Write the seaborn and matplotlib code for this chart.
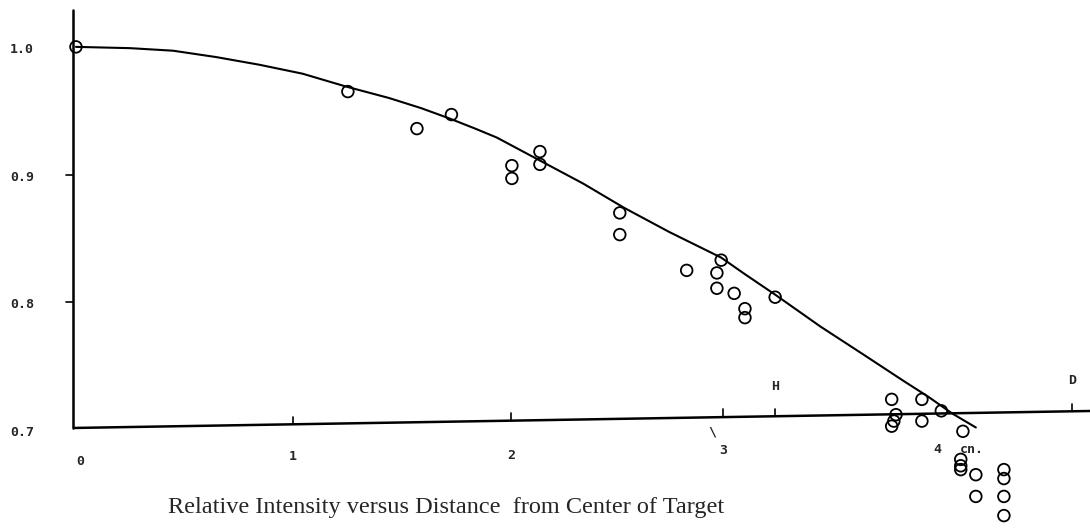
import numpy as np
import pandas as pd
import matplotlib
matplotlib.use("Agg")
import matplotlib.pyplot as plt
import seaborn as sns

# measured points: distance from target centre (cm) vs relative intensity
dist = [0.00, 1.26, 1.58, 1.74, 2.02, 2.02, 2.15, 2.15, 2.52, 2.52,
        2.83, 2.99, 2.97, 2.97, 3.05, 3.10, 3.10, 3.24, 3.78, 3.80,
        3.79, 3.78, 3.92, 3.92, 4.01, 4.11, 4.10, 4.10, 4.10, 4.17,
        4.17, 4.30, 4.30, 4.30, 4.30]
intensity = [1.000, 0.965, 0.936, 0.947, 0.907, 0.897, 0.918, 0.908, 0.870, 0.853,
             0.825, 0.833, 0.823, 0.811, 0.807, 0.795, 0.788, 0.804, 0.724, 0.712,
             0.707, 0.703, 0.724, 0.707, 0.715, 0.699, 0.677, 0.672, 0.669, 0.665,
             0.648, 0.669, 0.662, 0.648, 0.633]

# fitted curve
curve_x = [0.00, 0.25, 0.45, 0.65, 0.85, 1.05, 1.25, 1.45, 1.60, 1.73,
           1.85, 1.95, 2.05, 2.15, 2.35, 2.54, 2.75, 2.99, 3.10, 3.24,
           3.45, 3.65, 3.83, 3.95, 4.06, 4.17]
curve_y = [1.000, 0.999, 0.997, 0.992, 0.986, 0.979, 0.969, 0.960, 0.952, 0.944,
           0.936, 0.929, 0.920, 0.911, 0.893, 0.874, 0.855, 0.835, 0.822, 0.806,
           0.781, 0.759, 0.739, 0.726, 0.713, 0.702]

y_ticks = [1.0, 0.9, 0.8, 0.7]
y_tick_labels = ["1.0", "0.9", "0.8", "0.7"]
x_ticks = [1.006, 2.016, 2.998, 3.239, 4.615]

title = "Relative Intensity versus Distance  from Center of Target"

pts = pd.DataFrame({"dist": dist, "intensity": intensity})
fit = pd.DataFrame({"dist": curve_x, "intensity": curve_y})

sns.set_theme(style="white")
plt.rcParams["font.family"] = ["DejaVu Sans Mono", "DejaVu Sans"]

fig = plt.figure(figsize=(10.9, 5.29), dpi=100)
ax = fig.add_axes([0, 0, 1, 1])
ax.axis("off")

# ── axes drawn by hand (scanned plot, x axis slightly tilted) ─────────────
ax_x = [-0.014, 4.699]
ax_y = [0.7016, 0.7149]
ax.plot(ax_x, ax_y, color="black", lw=1.8, solid_capstyle="butt")
ax.plot([-0.014, -0.014], [0.7016, 1.029], color="black", lw=1.8)

for yt in y_ticks[1:3]:
    ax.plot([-0.046, -0.014], [yt, yt], color="black", lw=1.2)
for xt in x_ticks:
    yb = np.interp(xt, ax_x, ax_y)
    ax.plot([xt, xt], [yb, yb + 0.006], color="black", lw=1.2)

# ── data ─────────────────────────────────────────────────────────────────
sns.lineplot(data=fit, x="dist", y="intensity", sort=False, estimator=None,
             color="black", lw=1.5, ax=ax)
sns.scatterplot(data=pts, x="dist", y="intensity", marker="o", s=70,
                facecolor="none", edgecolor="black", linewidth=1.3, ax=ax,
                zorder=3)
ax.set_xlim(-0.352, 4.699)
ax.set_ylim(0.6225, 1.0367)

# ── labels ───────────────────────────────────────────────────────────────
lbl = dict(ha="center", va="center", fontsize=9.5, fontweight="bold")
for yt, lab in zip(y_ticks, y_tick_labels):
    ax.text(-0.25, yt - 0.002, lab, **lbl)
ax.text(0.019, 0.6757, "0", **lbl)
ax.text(1.006, 0.6789, "1", **lbl)
ax.text(2.016, 0.6804, "2", **lbl)
ax.text(2.998, 0.6836, "3", **lbl)
ax.text(2.947, 0.6984, "\\", **lbl)
ax.text(3.990, 0.6851, "4", **lbl)
ax.text(4.150, 0.6851, "cn.", **lbl)
ax.text(3.239, 0.7337, "H", **lbl)
ax.text(4.615, 0.7384, "D", **lbl)

ax.text(0.426, 0.6397, title, ha="left", va="center", fontsize=17.5,
        family=["Liberation Serif", "DejaVu Serif"])

fig.savefig("out.png", dpi=100)
plt.close(fig)
